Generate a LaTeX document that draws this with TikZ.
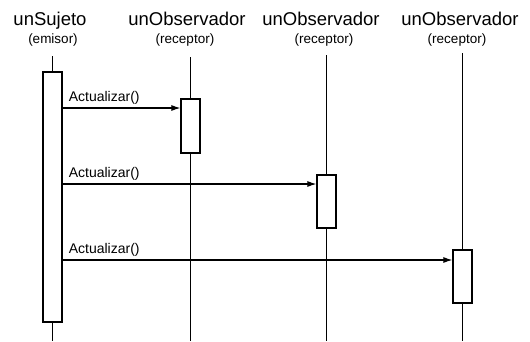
\documentclass[tikz,border=0pt]{standalone}
\usepackage{fontspec}
\setmainfont{Liberation Sans}
\usetikzlibrary{arrows.meta}
\begin{document}
\begin{tikzpicture}[x=1pt,y=-1pt,
  objname/.style={font=\fontsize{18.5}{20}\selectfont, inner sep=0pt, anchor=base},
  objrole/.style={font=\fontsize{13.5}{15}\selectfont, inner sep=0pt, anchor=base},
  lifeline/.style={line width=1.3pt},
  actbox/.style={draw, line width=1.2pt, fill=white, minimum width=19pt, inner sep=0pt},
  msg/.style={line width=1.1pt, -{Latex[length=9pt,width=6pt]}},
  msglabel/.style={font=\fontsize{14}{16}\selectfont, inner sep=0pt, anchor=base west}]
\useasboundingbox (0,0) rectangle (530,341);

% object headers
\node[objname] (h1) at (50,25) {unSujeto};
\node[objrole] (r1) at (53,43) {(emisor)};
\node[objname] (h2) at (187,25) {unObservador};
\node[objrole] (r2) at (185,43) {(receptor)};
\node[objname] (h3) at (321,25) {unObservador};
\node[objrole] (r3) at (324,43) {(receptor)};
\node[objname] (h4) at (460,25) {unObservador};
\node[objrole] (r4) at (457,43) {(receptor)};

% lifeline ends
\coordinate (t1) at (52.5,56);
\coordinate (b1) at (52.5,341);
\coordinate (t2) at (190.5,57);
\coordinate (b2) at (190.5,341);
\coordinate (t3) at (326.5,55);
\coordinate (b3) at (326.5,341);
\coordinate (t4) at (462.5,53);
\coordinate (b4) at (462.5,341);

\draw[lifeline] (t1) -- (b1);
\draw[lifeline] (t2) -- (b2);
\draw[lifeline] (t3) -- (b3);
\draw[lifeline] (t4) -- (b4);

% activation bars
\node[actbox, minimum height=250pt] (a1) at (52.5,197) {};
\node[actbox, minimum height=54pt] (a2) at (190.5,126) {};
\node[actbox, minimum height=53pt] (a3) at (326.5,201.5) {};
\node[actbox, minimum height=53pt] (a4) at (462.5,276.5) {};

% message heights
\coordinate (m1) at (0,108);
\coordinate (m2) at (0,184);
\coordinate (m3) at (0,260);

% messages
\draw[msg] (a1.east |- m1) -- (a2.west |- m1);
\draw[msg] (a1.east |- m2) -- (a3.west |- m2);
\draw[msg] (a1.east |- m3) -- (a4.west |- m3);

\node[msglabel] (l1) at ([shift={(6,-7)}]a1.east |- m1) {Actualizar()};
\node[msglabel] (l2) at ([shift={(6,-7)}]a1.east |- m2) {Actualizar()};
\node[msglabel] (l3) at ([shift={(6,-7)}]a1.east |- m3) {Actualizar()};
\end{tikzpicture}
\end{document}
